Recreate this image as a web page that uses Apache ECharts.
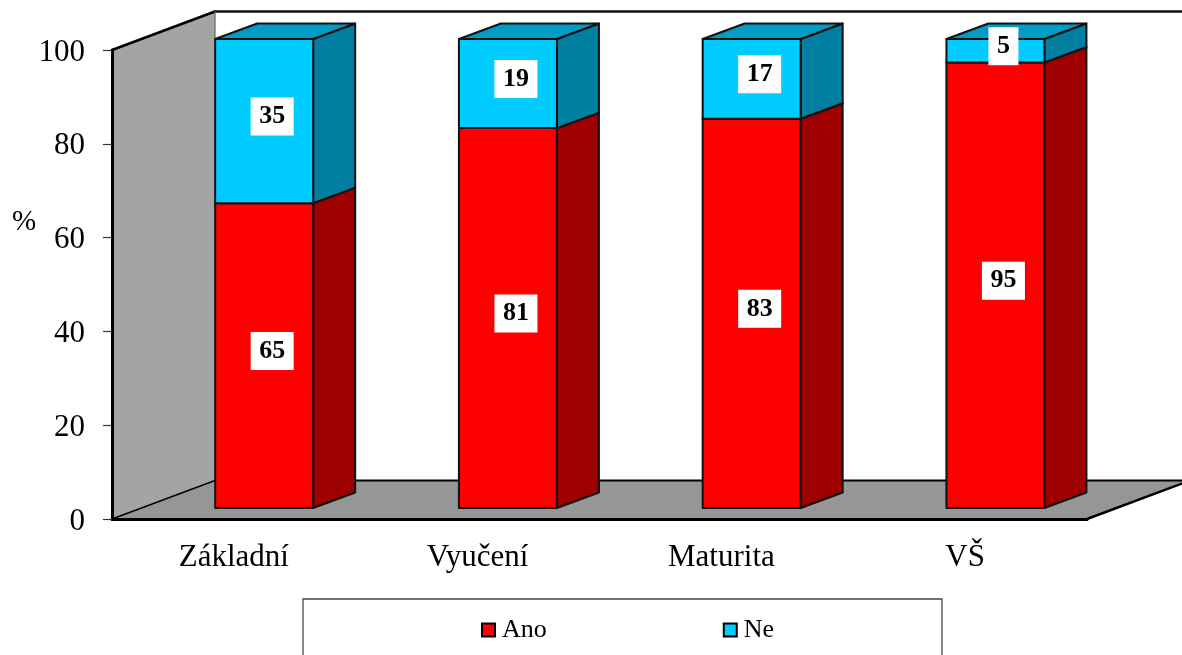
<!DOCTYPE html>
<html>
<head>
<meta charset="utf-8">
<style>html,body{margin:0;padding:0;background:#fff;overflow:hidden}#c{width:1182px;height:655px}</style>
<script src="https://cdn.jsdelivr.net/npm/echarts@6/dist/echarts.min.js"></script>
</head>
<body>
<div id="c"></div>
<script>
const categories = ['Základní', 'Vyučení', 'Maturita', 'VŠ'];
const ano = [65, 81, 83, 95];
const ne = [35, 19, 17, 5];
const yTicks = { min: 0, max: 100, interval: 20 };

const SERIF = '"Liberation Serif","Times New Roman",serif';
const WALL_DEPTH = [103, -38.5];
const BAR_OFFSET = [30.3, -11];
const BAR_DEPTH = [42, -15.5];
const BAR_RATIO = 0.402;
const LABEL_SHIFT = [8, -4.5];

function poly(points, fill, stroke, lw) {
  return { type: 'polygon', shape: { points }, style: { fill, stroke: stroke || 'none', lineWidth: lw || 0, lineJoin: 'round' } };
}
function line(a, b, stroke, lw) {
  return { type: 'line', shape: { x1: a[0], y1: a[1], x2: b[0], y2: b[1] }, style: { stroke, lineWidth: lw, lineCap: 'round' } };
}

function renderWalls(params, api) {
  const cs = params.coordSys;
  const x0 = cs.x, x1 = cs.x + cs.width, yT = cs.y, yB = cs.y + cs.height;
  const d = WALL_DEPTH;
  return {
    type: 'group',
    children: [
      poly([[x0, yT], [x0 + d[0], yT + d[1]], [x0 + d[0], yB + d[1]], [x0, yB]], '#a4a4a4'),
      poly([[x0, yB], [x0 + d[0], yB + d[1]], [x1 + d[0], yB + d[1]], [x1, yB]], '#969696'),
      line([x0, yT], [x0 + d[0], yT + d[1]], '#000', 2.5),
      line([x0 + d[0], yT + d[1]], [x1 + d[0], yT + d[1]], '#111', 2.5),
      line([x0 + d[0], yT + d[1]], [x0 + d[0], yB + d[1]], '#666', 1.2),
      line([x0, yB], [x0 + d[0], yB + d[1]], '#000', 1.5),
      line([x0 + d[0], yB + d[1]], [x1 + d[0], yB + d[1]], '#000', 2),
      line([x1, yB], [x1 + d[0], yB + d[1]], '#000', 2.5)
    ]
  };
}

function segmentRenderer(front, side, top) {
  return function (params, api) {
    const i = api.value(0), lo = api.value(1), hi = api.value(2);
    const pLo = api.coord([i, lo]), pHi = api.coord([i, hi]);
    const w = api.size([1, 0])[0] * BAR_RATIO;
    const cx = pLo[0] + BAR_OFFSET[0];
    const l = cx - w / 2, r = cx + w / 2;
    const b = pLo[1] + BAR_OFFSET[1], t = pHi[1] + BAR_OFFSET[1];
    const dx = BAR_DEPTH[0], dy = BAR_DEPTH[1];
    const txt = String(hi - lo);
    const bw = txt.length * 13 + 17, bh = 38;
    const lx = (l + r) / 2 + LABEL_SHIFT[0], ly = (t + b) / 2 + LABEL_SHIFT[1];
    return {
      type: 'group',
      children: [
        poly([[r, t], [r + dx, t + dy], [r + dx, b + dy], [r, b]], side, '#111', 2),
        poly([[l, t], [l + dx, t + dy], [r + dx, t + dy], [r, t]], top, '#111', 2),
        poly([[l, t], [r, t], [r, b], [l, b]], front, '#111', 2),
        { type: 'rect', z2: 10, shape: { x: lx - bw / 2, y: ly - bh / 2, width: bw, height: bh }, style: { fill: '#fff' } },
        { type: 'text', z2: 11, x: lx, y: ly, style: { text: txt, fill: '#000', align: 'center', verticalAlign: 'middle', font: 'bold 26px ' + SERIF } }
      ]
    };
  };
}

function segments(lows, values) {
  return values.map((v, i) => [i, lows[i], lows[i] + v]);
}

const chart = echarts.init(document.getElementById('c'), null, { renderer: 'canvas' });
chart.setOption({
  animation: false,
  backgroundColor: '#fff',
  grid: { left: 112, right: 95, top: 50, bottom: 136 },
  xAxis: {
    type: 'category', data: categories, z: 5,
    axisLine: { lineStyle: { color: '#000', width: 3 } },
    axisTick: { length: 8, lineStyle: { color: '#333', width: 1.2 } },
    axisLabel: { color: '#000', fontFamily: SERIF, fontSize: 31, margin: 23 },
    splitLine: { show: false }
  },
  yAxis: {
    type: 'value', min: yTicks.min, max: yTicks.max, interval: yTicks.interval, z: 5,
    axisLine: { show: true, onZero: false, lineStyle: { color: '#000', width: 3 } },
    axisTick: { show: true, length: 9, lineStyle: { color: '#333', width: 1.2 } },
    axisLabel: {
      margin: 27, formatter: '{t|{value}}',
      rich: { t: { color: '#000', fontFamily: SERIF, fontSize: 31, padding: [5, 0, 0, 0] } }
    },
    splitLine: { show: false }
  },
  legend: {
    left: 481, top: 617, padding: 0, itemWidth: 13, itemHeight: 13, itemGap: 176,
    textStyle: { color: '#000', fontFamily: SERIF, fontSize: 26, padding: [0, 0, 0, 2] },
    data: [
      { name: 'Ano', icon: 'rect', itemStyle: { color: '#ff0000', borderColor: '#000', borderWidth: 2 } },
      { name: 'Ne', icon: 'rect', itemStyle: { color: '#00ccff', borderColor: '#000', borderWidth: 2 } }
    ]
  },
  graphic: [
    { type: 'rect', shape: { x: 303, y: 599, width: 639, height: 80 }, style: { fill: 'none', stroke: '#444', lineWidth: 1.3 }, silent: true },
    { type: 'text', x: 12, y: 208, style: { text: '%', fill: '#000', font: '29px ' + SERIF }, silent: true }
  ],
  series: [
    { type: 'custom', name: 'walls', coordinateSystem: 'cartesian2d', clip: false, silent: true, z: 1, renderItem: renderWalls, data: [[0, 0, 0]] },
    { type: 'custom', name: 'Ano', coordinateSystem: 'cartesian2d', clip: false, z: 2, itemStyle: { color: '#ff0000' }, encode: { x: 0, y: [1, 2] },
      renderItem: segmentRenderer('#ff0000', '#9e0000', '#c60000'), data: segments([0, 0, 0, 0], ano) },
    { type: 'custom', name: 'Ne', coordinateSystem: 'cartesian2d', clip: false, z: 3, itemStyle: { color: '#00ccff' }, encode: { x: 0, y: [1, 2] },
      renderItem: segmentRenderer('#00ccff', '#007fa1', '#009cc3'), data: segments(ano, ne) }
  ]
});
</script>
</body>
</html>
